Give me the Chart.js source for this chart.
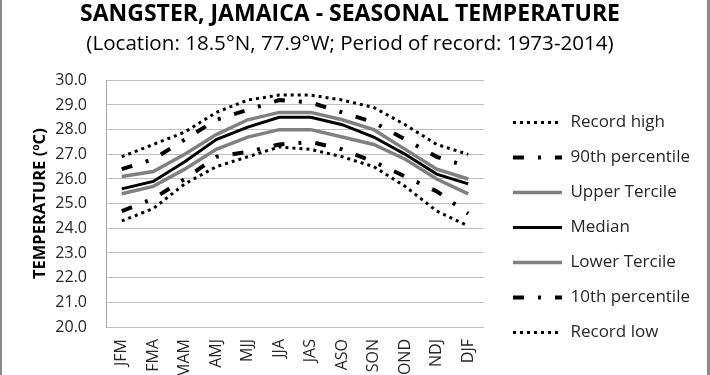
<!DOCTYPE html>
<html>
<head>
<meta charset="utf-8">
<script src="https://cdn.jsdelivr.net/npm/chart.js@4/dist/chart.umd.min.js"></script>
<style>
  body { margin: 0; background: #fff; }
  #wrap { position: relative; width: 710px; height: 375px; overflow: hidden; }
  .edge { position: absolute; top: 0; height: 375px; background: #8a8a8a; }
</style>
</head>
<body>
<div id="wrap">
  <canvas id="seasonalChart" width="710" height="375"></canvas>
  <div class="edge" style="left:0;width:2px"></div>
  <div class="edge" style="left:707px;width:3px"></div>
</div>
<script>
// three-month seasons
const seasons = ['JFM', 'FMA', 'MAM', 'AMJ', 'MJJ', 'JJA', 'JAS', 'ASO', 'SON', 'OND', 'NDJ', 'DJF'];

// temperatures in degrees C
const recordHigh    = [26.9, 27.4, 27.9, 28.7, 29.2, 29.4, 29.4, 29.2, 28.9, 28.2, 27.4, 27.0];
const percentile90  = [26.4, 26.8, 27.6, 28.4, 28.8, 29.2, 29.1, 28.7, 28.3, 27.6, 26.9, 26.5];
const upperTercile  = [26.1, 26.3, 27.0, 27.8, 28.4, 28.7, 28.7, 28.4, 28.0, 27.2, 26.4, 26.0];
const median        = [25.6, 25.9, 26.7, 27.6, 28.1, 28.5, 28.5, 28.2, 27.7, 27.0, 26.2, 25.8];
const lowerTercile  = [25.4, 25.7, 26.4, 27.2, 27.7, 28.0, 28.0, 27.7, 27.4, 26.8, 26.0, 25.4];
const percentile10  = [24.7, 25.2, 26.0, 26.9, 27.1, 27.4, 27.5, 27.2, 26.7, 26.1, 25.5, 24.6];
const recordLow     = [24.3, 24.8, 25.8, 26.5, 26.9, 27.3, 27.2, 26.9, 26.5, 25.7, 24.7, 24.1];

const yTicks = [20, 21, 22, 23, 24, 25, 26, 27, 28, 29, 30];

Chart.defaults.font.family = "'Open Sans', sans-serif";
Chart.defaults.color = '#262626';

const dotted = [3, 4];
const dashDot = [11, 14, 3, 14];

function series(label, data, color, width, dash) {
    return {
        label: label,
        data: data,
        borderColor: color,
        backgroundColor: color,
        borderWidth: width,
        borderDash: dash,
        borderCapStyle: 'butt',
        pointRadius: 0,
        pointHoverRadius: 0,
        tension: 0,
        fill: false,
        yAxisID: 'y'
    };
}

// default legend items take the point style, so put the line's dash back
function legendLabels(chart) {
    const items = Chart.defaults.plugins.legend.labels.generateLabels(chart);
    items.forEach(item => {
        const ds = chart.data.datasets[item.datasetIndex];
        item.lineDash = ds.borderDash;
        item.lineWidth = ds.borderWidth;
        item.strokeStyle = ds.borderColor;
        item.lineCap = 'butt';
    });
    return items;
}

const ctx = document.getElementById('seasonalChart').getContext('2d');
new Chart(ctx, {
    type: 'line',
    data: {
        labels: seasons,
        datasets: [
            series('Record high', recordHigh, '#000000', 3, dotted),
            series('90th percentile', percentile90, '#000000', 4, dashDot),
            series('Upper Tercile', upperTercile, '#808080', 3.5, []),
            series('Median', median, '#000000', 3, []),
            series('Lower Tercile', lowerTercile, '#808080', 3.5, []),
            series('10th percentile', percentile10, '#000000', 4, dashDot),
            series('Record low', recordLow, '#000000', 3, dotted)
        ]
    },
    options: {
        responsive: false,
        animation: false,
        layout: { padding: { right: 10 } },
        scales: {
            x: {
                offset: true,
                grid: { display: false, drawTicks: false },
                border: { display: false },
                ticks: {
                    minRotation: 90,
                    maxRotation: 90,
                    padding: 12,
                    font: { size: 16 },
                    color: '#262626'
                },
                afterFit: function (scale) { scale.height = 48; }
            },
            y: {
                min: 20,
                max: 30,
                afterBuildTicks: function (scale) {
                    scale.ticks = yTicks.map(v => ({ value: v }));
                },
                grid: { color: '#bfbfbf', lineWidth: 1, drawTicks: false },
                border: { display: true, color: '#a6a6a6', width: 1 },
                ticks: {
                    padding: 19,
                    font: { size: 16 },
                    color: '#262626',
                    callback: function (value) { return Number(value).toFixed(1); }
                },
                title: {
                    display: true,
                    text: 'TEMPERATURE (ºC)',
                    font: { size: 16.5, weight: 'bold' },
                    color: '#000000',
                    padding: { top: 30, bottom: 0 }
                },
                afterFit: function (scale) { scale.width = 106; }
            },
            gap: {
                type: 'linear',
                position: 'right',
                display: true,
                grid: { display: false, drawTicks: false },
                border: { display: false },
                ticks: { display: false },
                afterFit: function (scale) { scale.width = 11; }
            }
        },
        plugins: {
            title: {
                display: true,
                text: 'SANGSTER, JAMAICA - SEASONAL TEMPERATURE',
                color: '#000000',
                font: { size: 23, weight: 'bold' },
                padding: { top: 1, bottom: 0 }
            },
            subtitle: {
                display: true,
                text: '(Location: 18.5°N, 77.9°W; Period of record: 1973-2014)',
                color: '#000000',
                font: { size: 20.6 },
                padding: { top: 3, bottom: 24 }
            },
            legend: {
                position: 'right',
                align: 'center',
                maxWidth: 215,
                title: {
                    display: true,
                    text: '',
                    font: { size: 10 },
                    padding: { top: 68, bottom: 0 }
                },
                labels: {
                    usePointStyle: true,
                    pointStyle: 'line',
                    pointStyleWidth: 49,
                    padding: 18,
                    color: '#262626',
                    font: { size: 17 },
                    generateLabels: legendLabels
                }
            },
            tooltip: { enabled: false }
        }
    }
});
</script>
</body>
</html>
